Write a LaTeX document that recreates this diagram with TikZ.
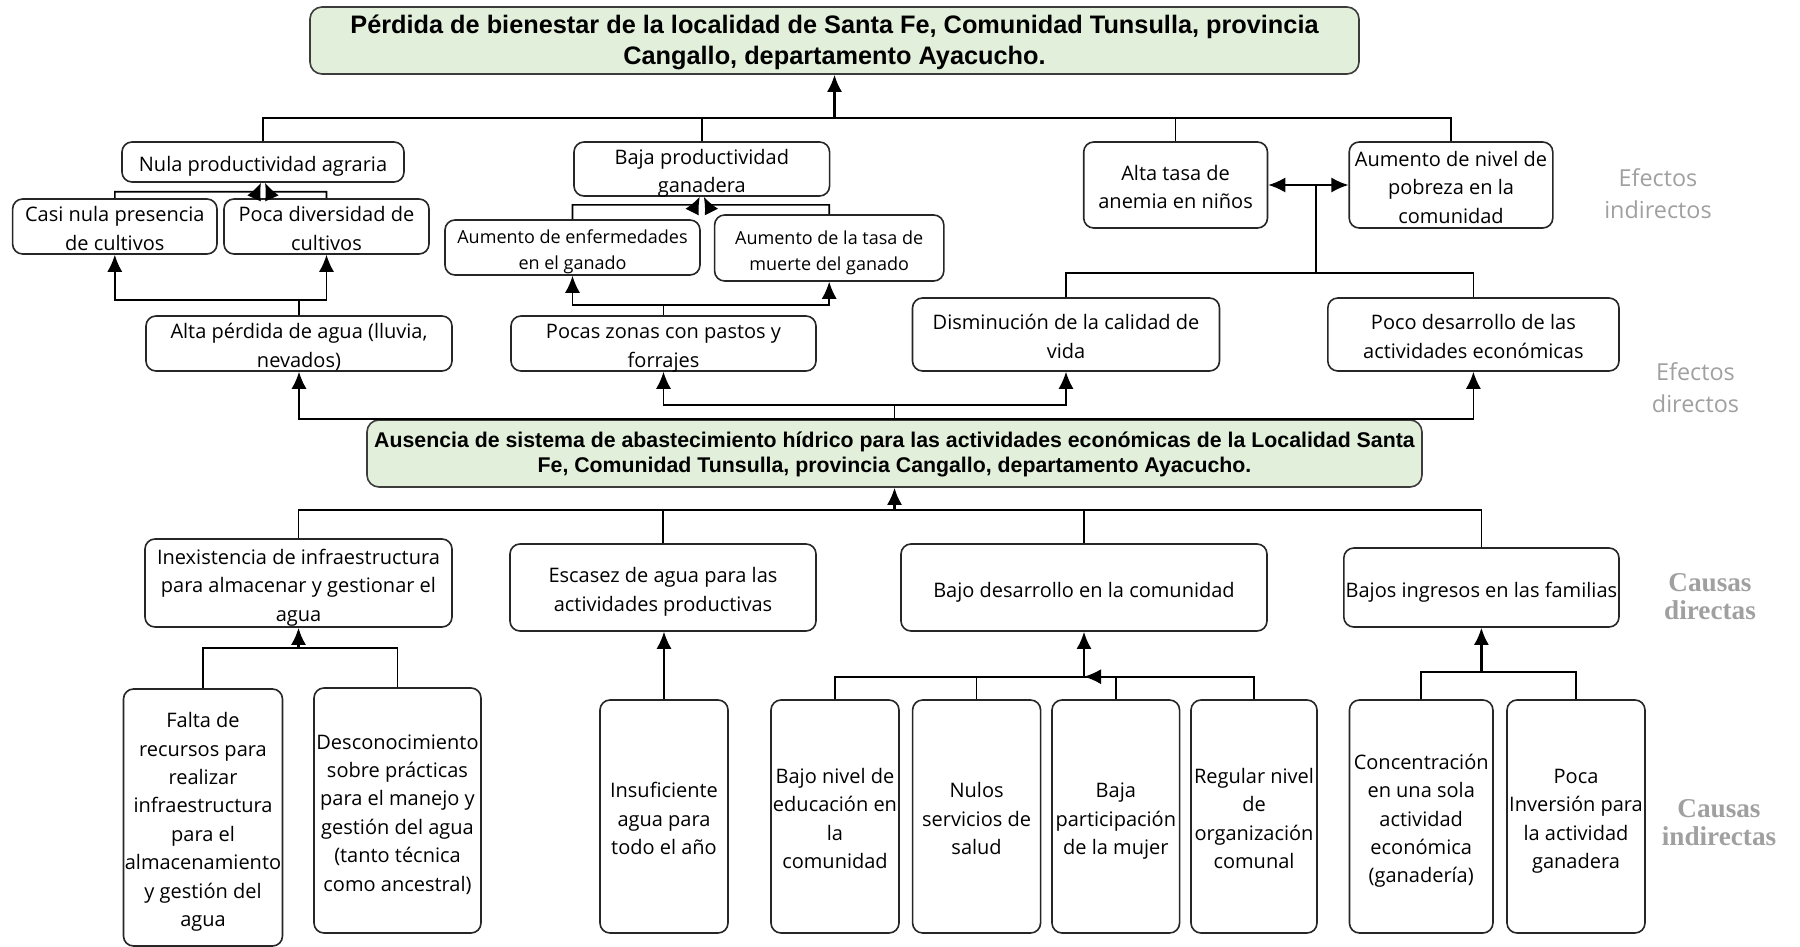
\documentclass[tikz,border=0pt]{standalone}
\usepackage{fontspec}
\setmainfont{Open Sans}
\newfontfamily\titlefont{Liberation Sans}
\newfontfamily\serifbold{Liberation Serif}
\usepackage{tikz}
\usetikzlibrary{arrows.meta}

\definecolor{verde}{HTML}{E2EFDA}
\definecolor{gristexto}{HTML}{A0A0A0}
\definecolor{borde}{HTML}{262626}

\newcommand{\celda}[1]{\begin{tabular}{@{}c@{}}#1\end{tabular}}

\begin{document}
\begin{tikzpicture}[x=1pt, y=-1pt, line width=0.8pt,
    effect/.style={draw=borde, line width=0.8pt, rounded corners=5pt, fill=white, inner sep=0pt,
        text height=9pt, text depth=0pt, font=\fontsize{10}{14.2}\selectfont},
    smallbox/.style={font=\fontsize{9}{13}\selectfont, text height=8.5pt},
    problem/.style={draw=borde!90, line width=0.8pt, rounded corners=6pt, fill=verde, inner sep=0pt, text depth=0pt},
    sidelabel/.style={align=center, text=gristexto, font=\fontsize{11.7}{16}\selectfont},
    causelabel/.style={align=center, text=gristexto, font=\serifbold\bfseries\fontsize{13.6}{14}\selectfont},
    flecha/.style={-{Latex[length=8.5pt, width=7.5pt]}}]

    \useasboundingbox (0, 0) rectangle (900, 473.5);

    % draw central problem and end effect
    \node[problem, minimum width = 524.5pt, minimum height = 33.5pt, text height = 8.3pt,
          font = \titlefont\bfseries\fontsize{12.65}{15.3}\selectfont] (top) at (417.25, 20.25)
          {\celda{Pérdida de bienestar de la localidad de Santa Fe, Comunidad Tunsulla, provincia\\Cangallo, departamento Ayacucho.}};
    \node[problem, minimum width = 527.5pt, minimum height = 33.5pt, text height = 6.8pt,
          font = \titlefont\bfseries\fontsize{10.65}{12.3}\selectfont] (central) at (447.25, 226.75)
          {\celda{Ausencia de sistema de abastecimiento hídrico para las actividades económicas de la Localidad Santa\\Fe, Comunidad Tunsulla, provincia Cangallo, departamento Ayacucho.}};

    % draw indirect effects
    \node[effect, minimum width = 141pt, minimum height = 20pt] (nula) at (131.5, 81) {\celda{Nula productividad agraria}};
    \node[effect, minimum width = 127.8pt, minimum height = 27pt] (bajaprod) at (350.9, 84.5) {\celda{Baja productividad\\ganadera}};
    \node[effect, minimum width = 91.9pt, minimum height = 43pt] (anemia) at (587.8, 92.5) {\celda{Alta tasa de\\anemia en niños}};
    \node[effect, minimum width = 101.8pt, minimum height = 43pt] (pobreza) at (725.5, 92.5) {\celda{Aumento de nivel de\\pobreza en la\\comunidad}};
    \node[effect, minimum width = 102.2pt, minimum height = 27.5pt] (casi) at (57.4, 113.25) {\celda{Casi nula presencia\\de cultivos}};
    \node[effect, minimum width = 102.5pt, minimum height = 27.5pt] (poca) at (163.25, 113.25) {\celda{Poca diversidad de\\cultivos}};
    \node[effect, smallbox, minimum width = 127.5pt, minimum height = 27.5pt] (enferm) at (286.25, 123.75) {\celda{Aumento de enfermedades\\en el ganado}};
    \node[effect, smallbox, minimum width = 114.6pt, minimum height = 33pt] (muerte) at (414.6, 124) {\celda{Aumento de la tasa de\\muerte del ganado}};

    % draw direct effects
    \node[effect, minimum width = 153pt, minimum height = 27.5pt] (perdida) at (149.5, 171.75) {\celda{Alta pérdida de agua (lluvia,\\nevados)}};
    \node[effect, minimum width = 152.5pt, minimum height = 27.5pt] (pastos) at (331.75, 171.75) {\celda{Pocas zonas con pastos y\\forrajes}};
    \node[effect, minimum width = 153.5pt, minimum height = 36.5pt] (calidad) at (533, 167.25) {\celda{Disminución de la calidad de\\vida}};
    \node[effect, minimum width = 145.6pt, minimum height = 36.5pt] (economia) at (736.7, 167.25) {\celda{Poco desarrollo de las\\actividades económicas}};

    % draw direct causes
    \node[effect, minimum width = 153.5pt, minimum height = 44pt] (inexist) at (149.25, 291.5) {\celda{Inexistencia de infraestructura\\para almacenar y gestionar el\\agua}};
    \node[effect, minimum width = 153pt, minimum height = 43.5pt] (escasez) at (331.5, 293.75) {\celda{Escasez de agua para las\\actividades productivas}};
    \node[effect, minimum width = 183pt, minimum height = 43.5pt] (bajodes) at (542, 293.75) {\celda{Bajo desarrollo en la comunidad}};
    \node[effect, minimum width = 137.6pt, minimum height = 39.5pt] (ingresos) at (740.7, 293.75) {\celda{Bajos ingresos en las familias}};

    % draw indirect causes
    \node[effect, minimum width = 79.5pt, minimum height = 128.5pt] (falta) at (101.5, 408.75) {\celda{Falta de\\recursos para\\realizar\\infraestructura\\para el\\almacenamiento\\y gestión del\\agua}};
    \node[effect, minimum width = 83.5pt, minimum height = 122.5pt] (descon) at (198.75, 405.25) {\celda{Desconocimiento\\sobre prácticas\\para el manejo y\\gestión del agua\\(tanto técnica\\como ancestral)}};
    \node[effect, minimum width = 64pt, minimum height = 116.5pt] (insuf) at (332, 408.25) {\celda{Insuficiente\\agua para\\todo el año}};
    \node[effect, minimum width = 64pt, minimum height = 116.5pt] (bajoniv) at (417.5, 408.25) {\celda{Bajo nivel de\\educación en\\la\\comunidad}};
    \node[effect, minimum width = 64pt, minimum height = 116.5pt] (salud) at (488.3, 408.25) {\celda{Nulos\\servicios de\\salud}};
    \node[effect, minimum width = 63.8pt, minimum height = 116.5pt] (mujer) at (557.9, 408.25) {\celda{Baja\\participación\\de la mujer}};
    \node[effect, minimum width = 63pt, minimum height = 116.5pt] (organiz) at (627, 408.25) {\celda{Regular nivel\\de\\organización\\comunal}};
    \node[effect, minimum width = 71.75pt, minimum height = 116.5pt] (concen) at (710.6, 408.25) {\celda{Concentración\\en una sola\\actividad\\económica\\(ganadería)}};
    \node[effect, minimum width = 69pt, minimum height = 116.5pt] (inversion) at (788, 408.25) {\celda{Poca\\Inversión para\\la actividad\\ganadera}};

    % draw side labels
    \node[sidelabel] (efind) at (829, 97) {Efectos\\indirectos};
    \node[sidelabel] (efdir) at (847.75, 194) {Efectos\\directos};
    \node[causelabel] (cdir) at (855, 298.5) {Causas\\directas};
    \node[causelabel] (cind) at (859.5, 411.5) {Causas\\indirectas};

    % draw connectors of the effects
    \coordinate (jtop) at (417.25, 59);
    \draw (nula.north) |- (jtop);
    \draw (bajaprod.north) |- (jtop);
    \draw (anemia.north) |- (jtop);
    \draw (pobreza.north) |- (jtop);
    \draw[flecha, line width=1.1pt] (jtop) -- (top.south);

    \draw[flecha] (casi.north) |- ([xshift=-3pt, yshift=-4.5pt]nula.south) -- ([xshift=-1pt]nula.south);
    \draw[flecha] (poca.north) |- ([xshift=3pt, yshift=-4.5pt]nula.south) -- ([xshift=1pt]nula.south);
    \draw[flecha] (enferm.north) |- ([xshift=-3pt, yshift=-4pt]bajaprod.south) -- ([xshift=-1pt]bajaprod.south);
    \draw[flecha] (muerte.north) |- ([xshift=3pt, yshift=-4pt]bajaprod.south) -- ([xshift=1pt]bajaprod.south);

    \draw[flecha] (perdida.north) -- ++(0, -7.65) -| (casi.south);
    \draw[flecha] (perdida.north) -- ++(0, -7.65) -| (poca.south);
    \draw[flecha] (pastos.north) -- ++(0, -5) -| (enferm.south);
    \draw[flecha] (pastos.north) -- ++(0, -5) -| (muerte.south);

    \coordinate (jvida) at (658, 136.5);
    \draw[flecha] (calidad.north) |- (jvida) |- (anemia.east);
    \draw[flecha] (economia.north) |- (jvida) |- (pobreza.west);

    \draw[flecha] (central.north) -| (perdida.south);
    \draw[flecha] (central.north) -| (economia.south);
    \draw[flecha] (central.north) -- ++(0, -7) -| (pastos.south);
    \draw[flecha] (central.north) -- ++(0, -7) -| (calidad.south);

    % draw connectors of the causes
    \coordinate (jcau) at (447.25, 255);
    \draw (inexist.north) |- (jcau);
    \draw (escasez.north) |- (jcau);
    \draw (bajodes.north) |- (jcau);
    \draw (ingresos.north) |- (jcau);
    \draw[flecha, line width=1.1pt] (jcau) -- (central.south);

    \coordinate (jinf) at (149.25, 324);
    \draw (falta.north) |- (jinf);
    \draw (descon.north) |- (jinf);
    \draw[flecha, line width=1.1pt] (jinf) -- (inexist.south);

    \draw[flecha] (insuf.north) -- (insuf.north |- escasez.south);

    \coordinate (jdes) at (542, 338.35);
    \draw (bajoniv.north) |- (jdes);
    \draw (salud.north) |- (jdes);
    \draw (mujer.north) |- (jdes);
    \draw[flecha] (organiz.north) |- (jdes);
    \draw[flecha, line width=1.1pt] (jdes) -- (bajodes.south);

    \coordinate (jing) at (740.7, 335.85);
    \draw (concen.north) |- (jing);
    \draw (inversion.north) |- (jing);
    \draw[flecha, line width=1.1pt] (jing) -- (ingresos.south);
\end{tikzpicture}
\end{document}
